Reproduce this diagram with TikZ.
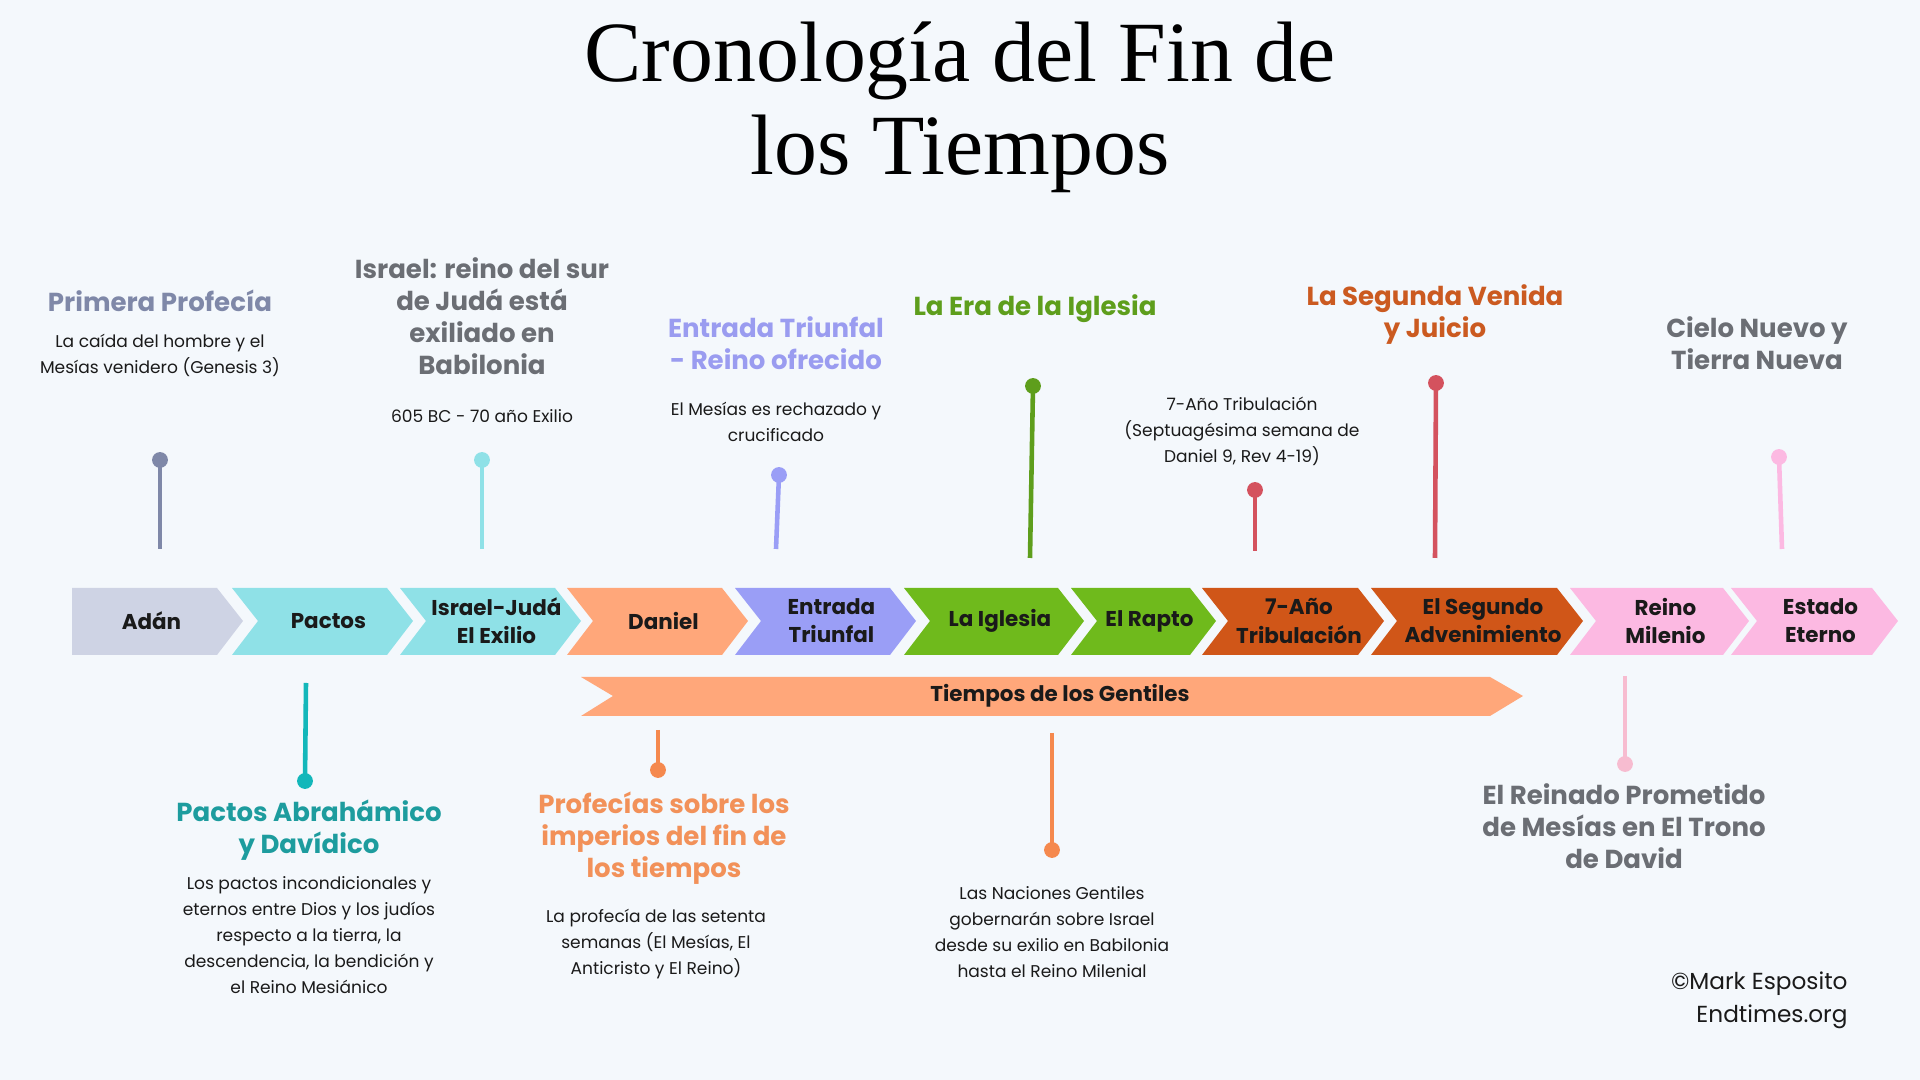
\documentclass[tikz,border=0pt]{standalone}
\usepackage{fontspec}
\setmainfont{Poppins}
\newfontfamily\titlefont{Liberation Serif}
\usetikzlibrary{calc}
\definecolor{bg}{HTML}{F4F8FC}
\definecolor{adan}{HTML}{CED3E4}
\definecolor{cyan}{HTML}{8FE1E7}
\definecolor{peach}{HTML}{FFA77A}
\definecolor{violet}{HTML}{9A9EF6}
\definecolor{leaf}{HTML}{6FBA1C}
\definecolor{rust}{HTML}{D05618}
\definecolor{rosa}{HTML}{FCB9E2}
\definecolor{slate}{HTML}{7F88A8}
\definecolor{grey}{HTML}{6B6E74}
\definecolor{lilac}{HTML}{9A9CF0}
\definecolor{moss}{HTML}{5E9E1C}
\definecolor{ember}{HTML}{CB5A20}
\definecolor{teal}{HTML}{1D9C9E}
\definecolor{apricot}{HTML}{F29159}
\definecolor{cherry}{HTML}{D4525E}
\definecolor{aqua}{HTML}{13B7BA}
\definecolor{coral}{HTML}{F5894E}
\definecolor{blush}{HTML}{F7BCD0}
\definecolor{ink}{HTML}{1A1A1A}

\begin{document}
\begin{tikzpicture}[
        x=0.01cm, y=-0.01cm,
        dot/.style={circle,minimum size=4.5pt,inner sep=0pt},
        pin/.style={line width=1.3pt},
        head/.style={font=\bfseries\fontsize{7.4}{9.1}\selectfont,align=center},
        body/.style={font=\fontsize{4.85}{7.4}\selectfont,align=center,text=ink},
        chev/.style={font=\bfseries\fontsize{6.1}{8}\selectfont,align=center,text=ink},
    ]
\fill[bg] (0,0) rectangle (1920,1080);
\useasboundingbox (0,0) rectangle (1920,1080);

% title
\node[font=\titlefont\fontsize{24.4}{26.4}\selectfont,align=center] (title) at (960,107)
    {Cronología del Fin de\\los Tiempos};

% the chevrons
\foreach \l/\r/\n/\c/\t [count=\i] in {
    72/243/0/adan/Adán,
    232/413/26/cyan/Pactos,
    400/581/26/cyan/{Israel-Judá\\El Exilio},
    567/748/26/peach/Daniel,
    735/916/26/violet/{Entrada\\Triunfal},
    904/1084/26/leaf/La Iglesia,
    1071/1216/26/leaf/El Rapto,
    1202/1384/26/rust/{7-Año\\Tribulación},
    1371/1583/26/rust/{El Segundo\\Advenimiento},
    1570/1749/26/rosa/{Reino\\Milenio},
    1731/1898/26/rosa/{Estado\\Eterno}} {
  \fill[\c] (\l,588) -- (\r-26,588) -- (\r,621) -- (\r-26,655) -- (\l,655) -- (\l+\n,621) -- cycle;
  \node[chev] (ch\i) at ({(\l+\r)/2+\n*0.46-6},621) {\t};
}

% times of the gentiles
\fill[peach] (581,677) -- (1490,677) -- (1523,696) -- (1490,716) -- (581,716) -- (613,696) -- cycle;
\node[chev] (gentiles) at (1060,696) {Tiempos de los Gentiles};

% upper pins
\node[dot,fill=slate] (d1) at (160,460) {};
\coordinate (e1) at (160,549);
\draw[pin,slate] (d1.center) -- (e1);
\node[dot,fill=cyan] (d2) at (482,460) {};
\coordinate (e2) at (482,549);
\draw[pin,cyan] (d2.center) -- (e2);
\node[dot,fill=violet] (d3) at (779,475) {};
\coordinate (e3) at (776,549);
\draw[pin,violet] (d3.center) -- (e3);
\node[dot,fill=moss] (d4) at (1033,386) {};
\coordinate (e4) at (1030,558);
\draw[pin,moss] (d4.center) -- (e4);
\node[dot,fill=cherry] (d5) at (1255,490) {};
\coordinate (e5) at (1255,551);
\draw[pin,cherry] (d5.center) -- (e5);
\node[dot,fill=cherry] (d6) at (1436,383) {};
\coordinate (e6) at (1435,558);
\draw[pin,cherry] (d6.center) -- (e6);
\node[dot,fill=rosa] (d7) at (1779,457) {};
\coordinate (e7) at (1782,549);
\draw[pin,rosa] (d7.center) -- (e7);

% lower pins
\coordinate (e8) at (306,683);
\node[dot,fill=aqua] (d8) at (305,781) {};
\draw[pin,aqua] (e8) -- (d8.center);
\coordinate (e9) at (658,730);
\node[dot,fill=coral] (d9) at (658,770) {};
\draw[pin,coral] (e9) -- (d9.center);
\coordinate (e10) at (1052,733);
\node[dot,fill=coral] (d10) at (1052,850) {};
\draw[pin,coral] (e10) -- (d10.center);
\coordinate (e11) at (1625,676);
\node[dot,fill=blush] (d11) at (1625,764) {};
\draw[pin,blush] (e11) -- (d11.center);

% upper captions
\node[head,text=slate] (primera) at (160,301) {Primera Profecía};
\node[body] (caida) at (160,355) {La caída del hombre y el\\Mesías venidero (Genesis 3)};
\node[head,text=grey] (israel) at (482,316) {Israel: reino del sur\\de Judá está\\exiliado en\\Babilonia};
\node[body] (exilio) at (482,416) {605 BC - 70 año Exilio};
\node[head,text=lilac] (entrada) at (776,343) {Entrada Triunfal\\- Reino ofrecido};
\node[body] (rechazado) at (776,422) {El Mesías es rechazado y\\crucificado};
\node[head,text=moss] (iglesia) at (1035,309) {La Era de la Iglesia};
\node[body] (tribulacion) at (1242,431) {7-Año Tribulación\\(Septuagésima semana de\\Daniel 9, Rev 4-19)};
\node[head,text=ember] (venida) at (1435,315) {La Segunda Venida\\y Juicio};
\node[head,text=grey] (cielo) at (1757,343) {Cielo Nuevo y\\Tierra Nueva};

% lower captions
\node[head,text=teal] (abraham) at (309,830) {Pactos Abrahámico\\y Davídico};
\node[body] (pactos) at (309,935) {Los pactos incondicionales y\\eternos entre Dios y los judíos\\respecto a la tierra, la\\descendencia, la bendición y\\el Reino Mesiánico};
\node[head,text=apricot] (imperios) at (664,838) {Profecías sobre los\\imperios del fin de\\los tiempos};
\node[body] (setenta) at (656,944) {La profecía de las setenta\\semanas (El Mesías, El\\Anticristo y El Reino)};
\node[body] (naciones) at (1052,932) {Las Naciones Gentiles\\gobernarán sobre Israel\\desde su exilio en Babilonia\\hasta el Reino Milenial};
\node[head,text=grey] (reinado) at (1624,826) {El Reinado Prometido\\de Mesías en El Trono\\de David};

% credit
\node[font=\fontsize{6.6}{9.3}\selectfont,align=right,anchor=east,text=ink] (credit) at (1860,1000)
    {©Mark Esposito\\Endtimes.org};
\end{tikzpicture}
\end{document}
